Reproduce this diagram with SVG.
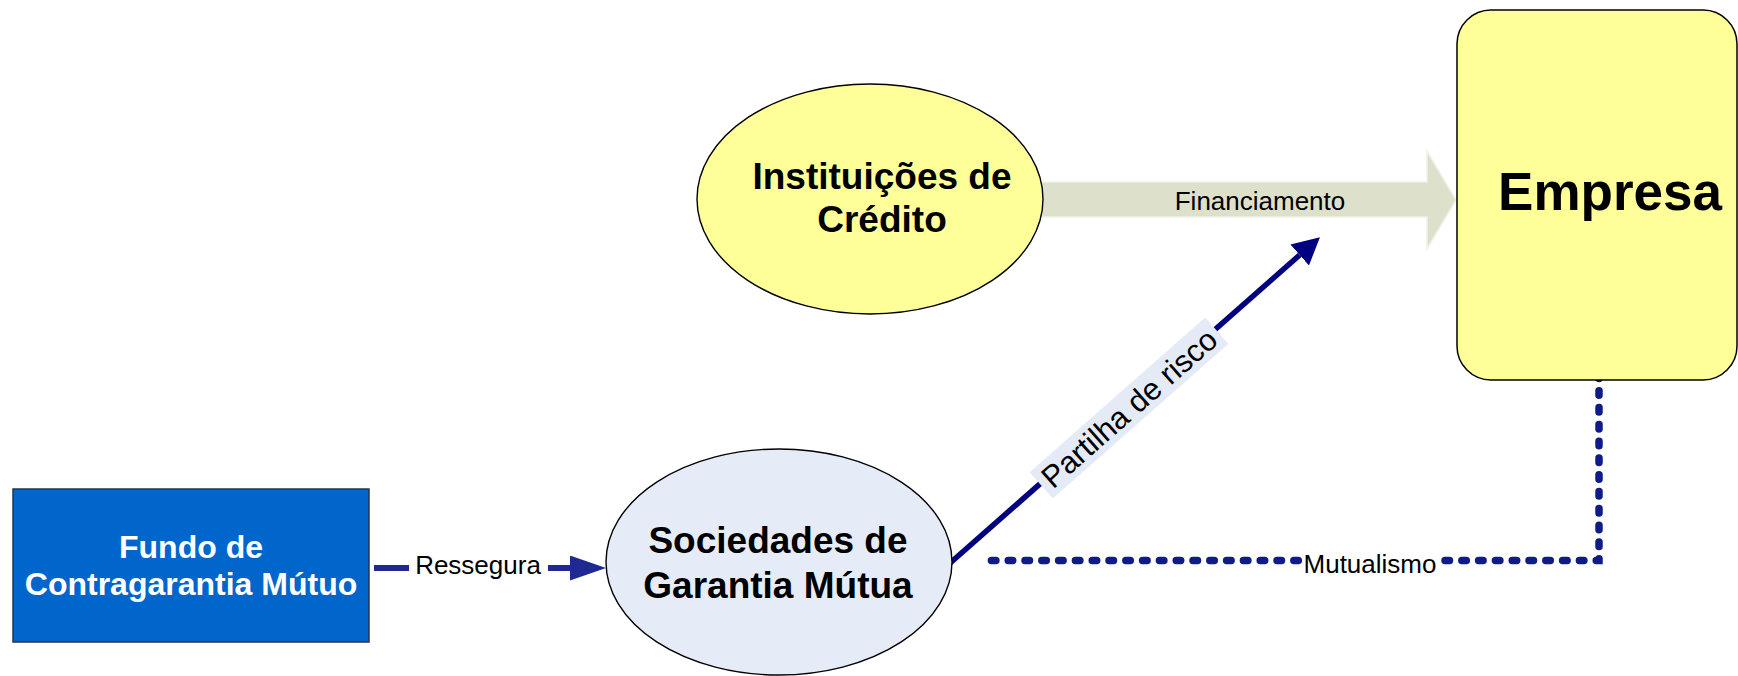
<svg xmlns="http://www.w3.org/2000/svg" width="1738" height="676" viewBox="0 0 1738 676">
<defs>
<style>
text{font-family:"Liberation Sans",Arial,sans-serif;}
.node-title{font-weight:bold;text-anchor:middle;fill:#000;}
.lbl{font-size:26px;text-anchor:middle;fill:#000;}
.ell{stroke:#000;stroke-width:1.4;}
.navy{stroke:#000080;fill:none;}
.dots{stroke:#0F1B86;stroke-width:7.5;fill:none;stroke-linecap:round;stroke-dasharray:4.5 12.3;}
</style>
<marker id="headNavy" markerUnits="userSpaceOnUse" markerWidth="27" markerHeight="28" refX="0" refY="14" orient="auto" viewBox="0 0 27 28">
<path d="M0,0 L27,14 L0,28 z" fill="#000080"/>
</marker>
<marker id="headBlue" markerUnits="userSpaceOnUse" markerWidth="36" markerHeight="25" refX="0" refY="12.5" orient="auto" viewBox="0 0 36 25">
<path d="M0,0 L36,12.5 L0,25 z" fill="#1E2A91"/>
</marker>
</defs>
<rect width="1738" height="676" fill="#fff"/>

<g id="connectors">
<g id="financiamento">
<path d="M1000,182 L1427,182 L1427,151 L1456,200 L1427,249 L1427,217 L1000,217 z" fill="#DDE1CB" stroke="#F1F2E8" stroke-width="1.5"/>
<text class="lbl" x="1260" y="210">Financiamento</text>
</g>
<g id="partilha">
<path class="navy" d="M949,564 L1299.7,255" stroke-width="5.5" marker-end="url(#headNavy)"/>
<g transform="translate(1129,408) rotate(-41.4)">
<rect x="-117" y="-17.5" width="234" height="35" fill="#E4EBF6"/>
<text x="0" y="11" font-size="31" text-anchor="middle" fill="#000">Partilha de risco</text>
</g>
</g>
<g id="ressegura">
<path d="M374,568 L570,568" stroke="#1E2A91" stroke-width="6" fill="none" marker-end="url(#headBlue)"/>
<rect x="409" y="552" width="139" height="30" fill="#fff"/>
<text class="lbl" x="478" y="574">Ressegura</text>
</g>
<g id="mutualismo">
<path class="dots" d="M1599,374 L1599,560.5 L989,560.5"/>
<rect x="1302" y="546" width="136" height="32" fill="#fff"/>
<text class="lbl" x="1370" y="573">Mutualismo</text>
</g>
</g>

<g id="instituicoes">
<ellipse class="ell" cx="870" cy="199" rx="173" ry="115" fill="#FFFF99"/>
<text class="node-title" font-size="37"><tspan x="882" y="189">Instituições de</tspan><tspan x="882" y="232">Crédito</tspan></text>
</g>

<g id="sociedades">
<ellipse class="ell" cx="779" cy="562" rx="173" ry="113" fill="#E5ECF7"/>
<text class="node-title" font-size="37"><tspan x="778" y="553">Sociedades de</tspan><tspan x="778" y="598">Garantia Mútua</tspan></text>
</g>

<g id="fundo">
<rect x="13" y="489" width="356" height="153" fill="#0066CC" stroke="#27344F" stroke-width="1.5"/>
<text class="node-title" font-size="32" style="fill:#fff"><tspan x="191" y="558">Fundo de</tspan><tspan x="191" y="595">Contragarantia Mútuo</tspan></text>
</g>

<g id="empresa">
<rect x="1457" y="10" width="280" height="370" rx="34" ry="34" fill="#FFFF99" stroke="#000" stroke-width="1.5"/>
<text class="node-title" font-size="53" x="1610" y="210">Empresa</text>
</g>
</svg>
